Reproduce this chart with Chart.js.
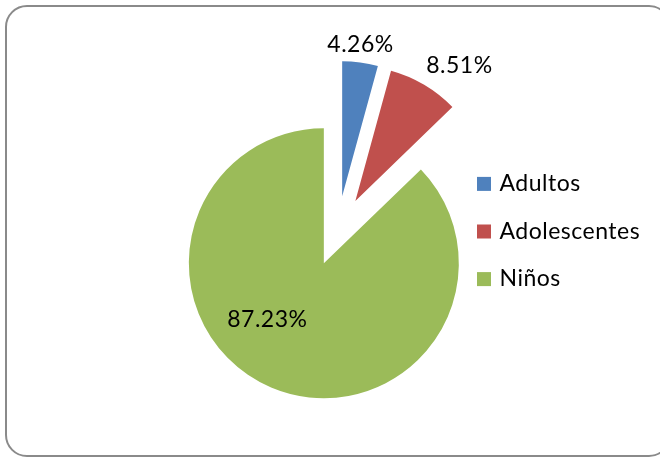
<!DOCTYPE html>
<html>
<head>
<meta charset="utf-8">
<title>Distribución por edad</title>
<script src="https://cdn.jsdelivr.net/npm/chart.js@4/dist/chart.umd.min.js"></script>
<style>
    html, body { margin: 0; padding: 0; background: #fff; }
    #wrap { position: relative; width: 660px; height: 457px; overflow: hidden; }
    #frame {
        position: absolute; left: 5px; top: 5px; width: 666px; height: 452px;
        box-sizing: border-box; border: 2px solid #8a8a8a; border-radius: 22px;
    }
    #pie { position: absolute; left: 0; top: 0; }
</style>
</head>
<body>
<div id="wrap">
    <div id="frame"></div>
    <canvas id="pie" width="660" height="457"></canvas>
</div>
<script>
// Data
const categories = ['Adultos', 'Adolescentes', 'Niños'];
const percentages = [4.26, 8.51, 87.23];
const sliceColors = ['#4F81BD', '#C0504D', '#9BBB59'];

// Label placement relative to each slice: fraction of radius, extra turn in degrees
const labelDist = [1.138, 1.27, 0.589];
const labelTurn = [-0.8, 6.7, 22.3];

const EXPLODE = 35;
const FONT = '23px Lato';

// pull every slice out from the centre along its mid angle
const explodePlugin = {
    id: 'explode',
    afterDatasetsUpdate(chart) {
        chart.getDatasetMeta(0).data.forEach(arc => {
            const mid = (arc.startAngle + arc.endAngle) / 2;
            arc.x += Math.cos(mid) * EXPLODE;
            arc.y += Math.sin(mid) * EXPLODE;
        });
    }
};

const valueLabels = {
    id: 'valueLabels',
    afterDatasetsDraw(chart) {
        const ctx = chart.ctx;
        ctx.save();
        ctx.font = FONT;
        ctx.letterSpacing = '0.5px';
        ctx.fillStyle = '#000';
        ctx.textAlign = 'center';
        ctx.textBaseline = 'alphabetic';
        chart.getDatasetMeta(0).data.forEach((arc, i) => {
            const ang = (arc.startAngle + arc.endAngle) / 2 + labelTurn[i] * Math.PI / 180;
            const d = arc.outerRadius * labelDist[i];
            const x = arc.x + Math.cos(ang) * d;
            const y = arc.y + Math.sin(ang) * d;
            ctx.fillText(percentages[i].toFixed(2) + '%', x, y + 8);
        });
        ctx.restore();
    }
};

const sideLegend = {
    id: 'sideLegend',
    afterDraw(chart) {
        const ctx = chart.ctx;
        const area = chart.chartArea;
        const midY = (area.top + area.bottom) / 2;
        const step = 47.6;
        ctx.save();
        ctx.font = FONT;
        ctx.letterSpacing = '0.5px';
        ctx.textBaseline = 'alphabetic';
        categories.forEach((name, i) => {
            const base = midY + 7.5 + (i - 1) * step;
            ctx.fillStyle = sliceColors[i];
            ctx.fillRect(477, base - 14, 14, 14);
            ctx.fillStyle = '#000';
            ctx.fillText(name, 499.5, base);
        });
        ctx.restore();
    }
};

new Chart(document.getElementById('pie'), {
    type: 'pie',
    data: {
        labels: categories,
        datasets: [{
            data: percentages,
            backgroundColor: sliceColors,
            borderWidth: 0,
            radius: 135
        }]
    },
    options: {
        responsive: false,
        animation: false,
        events: [],
        layout: { padding: { left: 15, right: 0, top: 5, bottom: 0 } },
        plugins: {
            legend: { display: false },
            tooltip: { enabled: false }
        }
    },
    plugins: [explodePlugin, valueLabels, sideLegend]
});
</script>
</body>
</html>
